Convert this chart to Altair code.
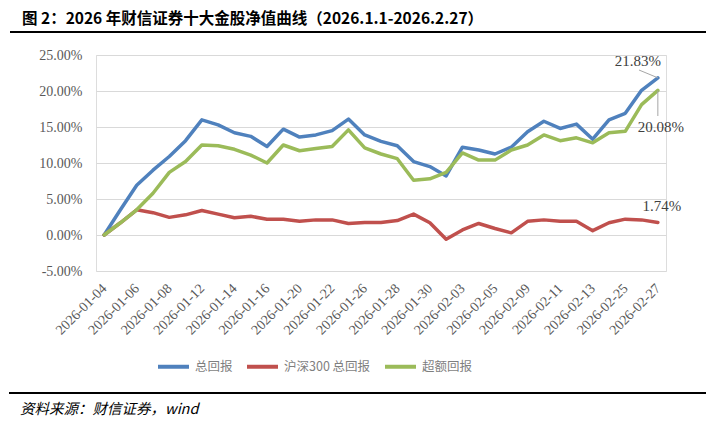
import altair as alt
import pandas as pd

dates = ["2026-01-04", "2026-01-05", "2026-01-06", "2026-01-07", "2026-01-08", "2026-01-09",
         "2026-01-12", "2026-01-13", "2026-01-14", "2026-01-15", "2026-01-16", "2026-01-19",
         "2026-01-20", "2026-01-21", "2026-01-22", "2026-01-23", "2026-01-26", "2026-01-27",
         "2026-01-28", "2026-01-29", "2026-01-30", "2026-02-02", "2026-02-03", "2026-02-04",
         "2026-02-05", "2026-02-06", "2026-02-09", "2026-02-10", "2026-02-11", "2026-02-12",
         "2026-02-13", "2026-02-24", "2026-02-25", "2026-02-26", "2026-02-27"]

total_return = [0, 3.5, 6.9, 9.0, 10.9, 13.1, 16.0, 15.3, 14.2, 13.7, 12.3, 14.7, 13.6, 13.9,
                14.5, 16.1, 13.9, 13.0, 12.4, 10.2, 9.5, 8.2, 12.2, 11.8, 11.25, 12.2, 14.35,
                15.8, 14.8, 15.4, 13.3, 16.0, 16.9, 20.1, 21.83]
hs300_return = [0, 1.7, 3.5, 3.1, 2.45, 2.8, 3.4, 2.9, 2.4, 2.6, 2.2, 2.2, 1.9, 2.1, 2.1, 1.6,
                1.75, 1.75, 2.0, 2.9, 1.7, -0.6, 0.7, 1.6, 0.9, 0.3, 1.9, 2.1, 1.9, 1.9, 0.6,
                1.7, 2.2, 2.1, 1.74]
excess_return = [0, 1.7, 3.5, 5.8, 8.7, 10.2, 12.5, 12.4, 11.9, 11.1, 10.0, 12.5, 11.7, 12.0,
                 12.3, 14.6, 12.1, 11.25, 10.6, 7.6, 7.8, 8.7, 11.4, 10.4, 10.4, 11.8, 12.5,
                 13.9, 13.1, 13.5, 12.8, 14.2, 14.4, 18.1, 20.08]

series_names = ["总回报", "沪深300 总回报", "超额回报"]
series_colors = ["#4f81bd", "#c0504d", "#9bbb59"]
y_ticks = [-5, 0, 5, 10, 15, 20, 25]
x_tick_labels = dates[::2]

title_text = "图 2：2026 年财信证券十大金股净值曲线（2026.1.1-2026.2.27）"
source_text = "资料来源：财信证券，wind"

rows = []
for name, vals in zip(series_names, [total_return, hs300_return, excess_return]):
    for d, v in zip(dates, vals):
        rows.append({"date": d, "series": name, "value": v})
df = pd.DataFrame(rows)

SERIF = "Liberation Serif"
CJK = "Noto Sans CJK SC"

x_enc = alt.X("date:O", sort=dates,
              scale=alt.Scale(type="point", padding=0.5),
              axis=alt.Axis(values=x_tick_labels, title=None, labelAngle=-45,
                            labelAlign="right", labelBaseline="middle",
                            labelPadding=15, labelFont=SERIF, labelFontSize=14,
                            labelColor="#595959", labelOverlap=False,
                            domain=False, ticks=False, grid=False))
y_enc = alt.Y("value:Q", scale=alt.Scale(domain=[-5, 25], nice=False, zero=False),
              axis=alt.Axis(values=y_ticks, tickCount=7, title=None,
                            labelExpr="(datum.value < 0 ? '-' : '') + format(abs(datum.value), '.2f') + '%'",
                            labelFont=SERIF, labelFontSize=14, labelColor="#595959",
                            labelPadding=14, labelOverlap=False, domain=False, ticks=False,
                            grid=True, gridColor="#d9d9d9", gridWidth=1))

base = alt.Chart(df)

lines = base.mark_line(strokeWidth=3.5, strokeJoin="round", strokeCap="round").encode(
    x=x_enc,
    y=y_enc,
    color=alt.Color("series:N",
                    scale=alt.Scale(domain=series_names, range=series_colors),
                    legend=alt.Legend(orient="none", legendX=60, legendY=294,
                                      direction="horizontal", title=None,
                                      symbolType="stroke", symbolSize=961,
                                      symbolStrokeWidth=4,
                                      labelFont=CJK, labelFontSize=12.5,
                                      labelColor="#7f7f7f", columnPadding=6,
                                      labelOffset=4)),
)

last = dates[-1]

def end_label(name, dx, dy):
    return base.transform_filter(
        (alt.datum.date == last) & (alt.datum.series == name)
    ).transform_calculate(
        label="format(datum.value, '.2f') + '%'"
    ).mark_text(font=SERIF, fontSize=15, color="#404040", dx=dx, dy=dy).encode(
        x=x_enc, y=y_enc, text="label:N")

lbl_total = end_label(series_names[0], -20, -17)
lbl_hs = end_label(series_names[1], 4, -16)
lbl_excess = end_label(series_names[2], 3, 37)

leader_total = base.transform_filter(
    (alt.datum.date == last) & (alt.datum.series == series_names[0])
).mark_rule(color="#a6a6a6", strokeWidth=1).encode(
    x=x_enc, y=y_enc,
    x2=alt.value(543), y2=alt.value(15))

leader_excess = base.transform_filter(
    (alt.datum.date == last) & (alt.datum.series == series_names[2])
).mark_rule(color="#a6a6a6", strokeWidth=1).encode(
    x=x_enc, y=y_enc,
    y2=alt.value(61))

one = alt.Data(values=[{}])
title_mark = alt.Chart(one).mark_text(
    text=title_text, font=CJK, fontSize=15.5, fontWeight="bold", color="#000000",
    align="left", baseline="middle").encode(x=alt.value(-74), y=alt.value(-36))
top_rule = alt.Chart(one).mark_rule(color="#000000", strokeWidth=2).encode(
    x=alt.value(-86), x2=alt.value(610), y=alt.value(-23))
bottom_rule = alt.Chart(one).mark_rule(color="#000000", strokeWidth=2).encode(
    x=alt.value(-87), x2=alt.value(610), y=alt.value(338))
source_mark = alt.Chart(one).mark_text(
    text=source_text, font=CJK, fontSize=14.5, fontStyle="italic", color="#000000",
    align="left", baseline="middle").encode(x=alt.value(-76), y=alt.value(355))

chart = alt.layer(
    lines, leader_total, leader_excess, lbl_total, lbl_hs, lbl_excess,
    title_mark, top_rule, bottom_rule, source_mark
).properties(
    width=570, height=216,
    padding={"left": 88, "top": 47, "right": 44, "bottom": 146},
    autosize=alt.AutoSizeParams(type="none"),
).configure_view(stroke=None).configure(background="#ffffff")

chart.save("out.html", embed_options={"renderer": "svg", "actions": False})
